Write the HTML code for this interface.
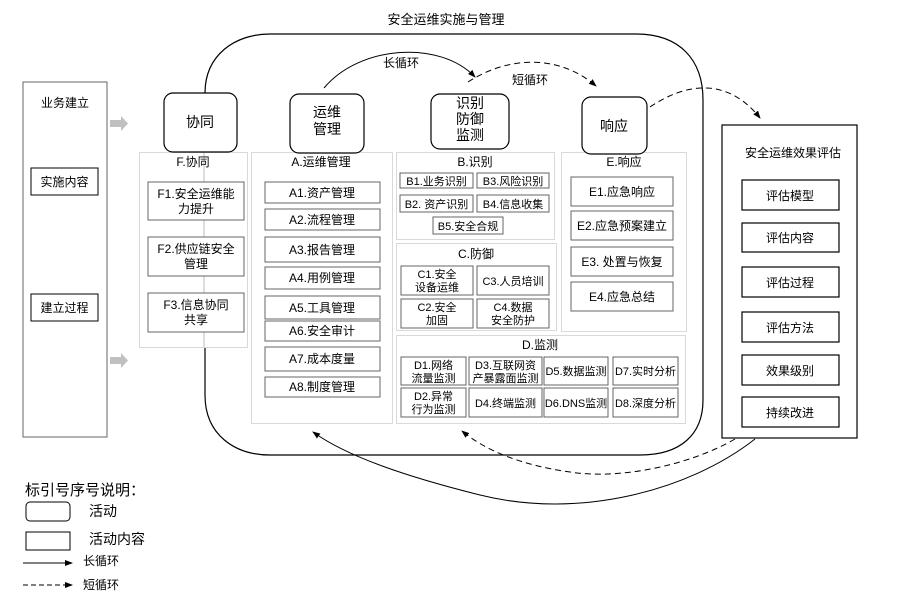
<!DOCTYPE html>
<html><head><meta charset="utf-8"><style>
html,body{margin:0;padding:0;background:#fff}
svg{display:block}
text{font-family:"Liberation Sans","Noto Sans CJK SC",sans-serif;fill:#000}
.s{font-size:11px}
</style></head><body>
<svg width="904" height="604" viewBox="0 0 904 604" xmlns="http://www.w3.org/2000/svg">
<defs>
<marker id="ah" markerWidth="8" markerHeight="8" refX="7" refY="4" orient="auto" markerUnits="userSpaceOnUse"><path d="M0,1 L8,4 L0,7 Z" fill="#000"/></marker>
</defs>
<g font-size="12" text-anchor="middle">
<text x="446" y="24" font-size="13">安全运维实施与管理</text>
<path d="M205,93 C205,55 235,34 270,34 L636,34 C680,34 703,60 703,100 L703,400 C703,435 680,455 640,455 L270,455 C235,455 205,435 205,395 Z" fill="none" stroke="#000" stroke-width="1.2"/>

<rect x="23" y="82" width="84" height="355" fill="#fff" stroke="#666"/>
<text x="65" y="107">业务建立</text>
<rect x="31" y="168" width="67" height="27" fill="#fff" stroke="#000"/>
<text x="64.5" y="186">实施内容</text>
<rect x="31" y="294" width="67" height="27" fill="#fff" stroke="#000"/>
<text x="64.5" y="312">建立过程</text>
<path d="M110,120 L121,120 L121,116 L128,123.5 L121,131 L121,127 L110,127 Z" fill="#c0c0c0"/>
<path d="M110,357 L121,357 L121,353 L128,360.5 L121,368 L121,364 L110,364 Z" fill="#c0c0c0"/>

<g fill="#fff" stroke="#d9d9d9">
<rect x="139.5" y="152.5" width="108" height="195"/>
<rect x="251.5" y="152.5" width="141" height="271"/>
<rect x="396.5" y="152.5" width="158" height="87"/>
<rect x="396.5" y="243.5" width="160" height="87"/>
<rect x="561.5" y="152.5" width="125" height="179"/>
<rect x="396.5" y="335.5" width="289" height="88"/>
</g>
<line x1="204" y1="152" x2="204" y2="347" stroke="#bbb"/>
<text x="193" y="166">F.协同</text>
<text x="321" y="166">A.运维管理</text>
<text x="475" y="166">B.识别</text>
<text x="476" y="258">C.防御</text>
<text x="624" y="166">E.响应</text>
<text x="540" y="349">D.监测</text>

<g fill="#fff" stroke="#000" stroke-width="1.2">
<rect x="164" y="93" width="73" height="59" rx="9"/>
<rect x="290" y="94" width="74" height="59" rx="9"/>
<rect x="431" y="94" width="78" height="55" rx="9"/>
<rect x="582" y="97" width="65" height="57" rx="9"/>
</g>
<text x="200" y="127" font-size="14">协同</text>
<text x="327" y="117" font-size="14">运维</text>
<text x="327" y="134" font-size="14">管理</text>
<text x="470" y="108" font-size="14">识别</text>
<text x="470" y="124" font-size="14">防御</text>
<text x="470" y="140" font-size="14">监测</text>
<text x="614" y="131" font-size="14">响应</text>

<g fill="#fff" stroke="#666">
<rect x="148" y="182" width="96" height="38"/>
<rect x="148" y="237" width="96" height="39"/>
<rect x="148" y="293" width="96" height="39"/>
<rect x="265" y="182" width="115" height="21"/>
<rect x="265" y="209" width="115" height="21"/>
<rect x="265" y="237" width="115" height="25"/>
<rect x="265" y="267" width="115" height="22"/>
<rect x="265" y="296" width="115" height="23"/>
<rect x="265" y="321" width="115" height="20"/>
<rect x="265" y="347" width="115" height="24"/>
<rect x="265" y="377" width="115" height="20"/>
<rect x="400" y="173" width="73" height="15"/>
<rect x="477" y="173" width="72" height="15"/>
<rect x="400" y="195" width="73" height="17"/>
<rect x="477" y="195" width="72" height="17"/>
<rect x="433" y="217" width="70" height="17"/>
<rect x="401" y="266" width="72" height="29"/>
<rect x="477" y="266" width="72" height="29"/>
<rect x="401" y="299" width="72" height="29"/>
<rect x="477" y="299" width="72" height="29"/>
<rect x="571" y="177" width="102" height="29"/>
<rect x="571" y="211" width="102" height="29"/>
<rect x="571" y="247" width="102" height="29"/>
<rect x="571" y="282" width="102" height="29"/>
<rect x="401" y="357" width="65" height="28"/>
<rect x="469" y="357" width="73" height="28"/>
<rect x="544" y="357" width="64" height="28"/>
<rect x="613" y="357" width="65" height="28"/>
<rect x="401" y="388" width="65" height="29"/>
<rect x="469" y="388" width="73" height="29"/>
<rect x="544" y="388" width="64" height="29"/>
<rect x="613" y="388" width="65" height="29"/>
</g>
<text x="196" y="198">F1.安全运维能</text><text x="196" y="213">力提升</text>
<text x="196" y="253">F2.供应链安全</text><text x="196" y="268">管理</text>
<text x="196" y="309">F3.信息协同</text><text x="196" y="324">共享</text>
<text x="322" y="197">A1.资产管理</text>
<text x="322" y="224">A2.流程管理</text>
<text x="322" y="254">A3.报告管理</text>
<text x="322" y="282">A4.用例管理</text>
<text x="322" y="312">A5.工具管理</text>
<text x="322" y="335">A6.安全审计</text>
<text x="322" y="363">A7.成本度量</text>
<text x="322" y="391">A8.制度管理</text>
<g class="s">
<text x="436.5" y="185">B1.业务识别</text>
<text x="513" y="185">B3.风险识别</text>
<text x="436.5" y="208">B2. 资产识别</text>
<text x="513" y="208">B4.信息收集</text>
<text x="468" y="230">B5.安全合规</text>
<text x="437" y="278">C1.安全</text><text x="437" y="291">设备运维</text>
<text x="513" y="285">C3.人员培训</text>
<text x="437" y="311">C2.安全</text><text x="437" y="324">加固</text>
<text x="513" y="311">C4.数据</text><text x="513" y="324">安全防护</text>
<text x="433.5" y="369">D1.网络</text><text x="433.5" y="382">流量监测</text>
<text x="505.5" y="369">D3.互联网资</text><text x="505.5" y="382">产暴露面监测</text>
<text x="576" y="375">D5.数据监测</text>
<text x="645.5" y="375">D7.实时分析</text>
<text x="433.5" y="400">D2.异常</text><text x="433.5" y="413">行为监测</text>
<text x="505.5" y="407">D4.终端监测</text>
<text x="576" y="407">D6.DNS监测</text>
<text x="645.5" y="407">D8.深度分析</text>
</g>
<text x="622" y="196">E1.应急响应</text>
<text x="622" y="230">E2.应急预案建立</text>
<text x="622" y="266">E3. 处置与恢复</text>
<text x="622" y="301">E4.应急总结</text>

<rect x="722" y="125" width="135" height="313" fill="#fff" stroke="#000" stroke-width="1.2"/>
<text x="793" y="157">安全运维效果评估</text>
<g fill="#fff" stroke="#000" stroke-width="1.2">
<rect x="742" y="180" width="97" height="30"/>
<rect x="742" y="223" width="97" height="29"/>
<rect x="742" y="267" width="97" height="30"/>
<rect x="742" y="312" width="97" height="30"/>
<rect x="742" y="355" width="97" height="30"/>
<rect x="742" y="397" width="97" height="30"/>
</g>
<text x="790" y="200">评估模型</text>
<text x="790" y="242">评估内容</text>
<text x="790" y="287">评估过程</text>
<text x="790" y="332">评估方法</text>
<text x="790" y="375">效果级别</text>
<text x="790" y="417">持续改进</text>

<path d="M324,88 C360,45 440,40 475,77" fill="none" stroke="#000" marker-end="url(#ah)"/>
<text x="401" y="67">长循环</text>
<path d="M468,82 C510,55 560,55 596,86" fill="none" stroke="#000" stroke-dasharray="6,4" marker-end="url(#ah)"/>
<text x="530" y="84">短循环</text>
<path d="M650,107 C690,80 730,80 760,118" fill="none" stroke="#000" stroke-dasharray="6,4" marker-end="url(#ah)"/>
<path d="M755,439 C690,490 580,520 480,495 C400,475 345,455 313,432" fill="none" stroke="#000" marker-end="url(#ah)"/>
<path d="M735,439 C690,465 620,480 570,472 C520,465 485,450 462,431" fill="none" stroke="#000" stroke-dasharray="6,4" marker-end="url(#ah)"/>
</g>

<g font-size="14">
<text x="25" y="495" font-size="15">标引号序号说明：</text>
<rect x="26" y="502" width="44" height="19" rx="4" fill="#fff" stroke="#000"/>
<text x="89" y="516">活动</text>
<rect x="26" y="532" width="44" height="18" fill="#fff" stroke="#000"/>
<text x="89" y="544">活动内容</text>
<line x1="23" y1="563" x2="72" y2="563" stroke="#000" marker-end="url(#ah)"/>
<text x="83" y="565" font-size="12">长循环</text>
<line x1="23" y1="585" x2="72" y2="585" stroke="#000" stroke-dasharray="5,3" marker-end="url(#ah)"/>
<text x="83" y="589" font-size="12">短循环</text>
</g>
</svg>
</body></html>
